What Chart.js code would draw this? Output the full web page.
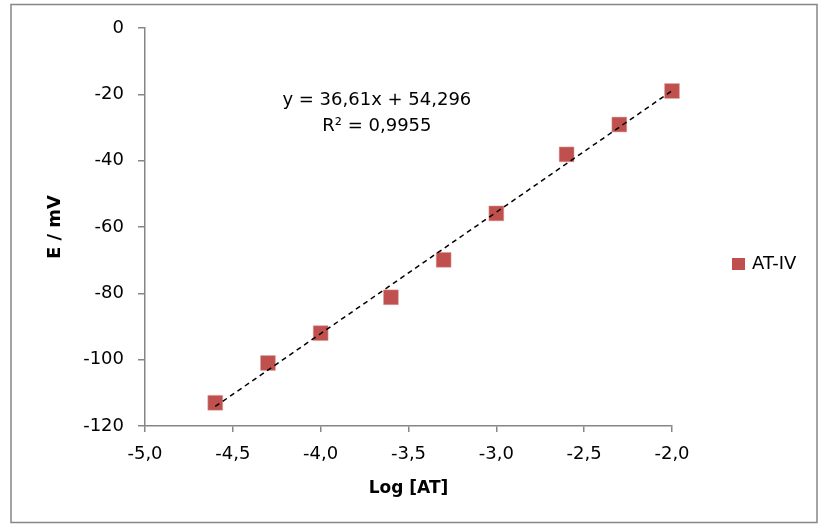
<!DOCTYPE html>
<html>
<head>
<meta charset="utf-8">
<script src="https://cdn.jsdelivr.net/npm/chart.js@4/dist/chart.umd.min.js"></script>
<style>
  html, body { margin: 0; padding: 0; background: #fff; }
  #wrap { width: 820px; height: 525px; }
</style>
</head>
<body>
<div id="wrap"><canvas id="chart" width="820" height="525"></canvas></div>
<script>
// values
const seriesName = "AT-IV";
const logConc = [-4.6, -4.3, -4.0, -3.6, -3.3, -3.0, -2.6, -2.3, -2.0];
const potential = [-113.0, -101.0, -92.0, -81.2, -69.9, -55.9, -38.1, -29.1, -19.0];

// trendline as printed on the chart
const slope = 36.61;
const intercept = 54.296;
const eqLines = ["y = 36,61x + 54,296", "R² = 0,9955"];

const fontFamily = "'DejaVu Sans', sans-serif";
const axisGray = "#868686";
const markerRed = "#C0504D";

const xMin = Math.min(...logConc);
const xMax = Math.max(...logConc);
const trendPoints = [
  { x: xMin, y: slope * xMin + intercept },
  { x: xMax, y: slope * xMax + intercept }
];

const decorations = {
  id: "decorations",
  beforeDraw(chart) {
    const ctx = chart.ctx;
    ctx.save();
    ctx.fillStyle = "#fff";
    ctx.fillRect(0, 0, chart.width, chart.height);
    ctx.strokeStyle = axisGray;
    ctx.lineWidth = 1.5;
    ctx.strokeRect(11, 4.5, 806, 518);
    ctx.restore();
  },
  afterDraw(chart) {
    const ctx = chart.ctx;
    const xs = chart.scales.x;
    const ys = chart.scales.y;
    ctx.save();
    // equation label
    ctx.font = "18px " + fontFamily;
    ctx.fillStyle = "#000";
    ctx.textAlign = "center";
    ctx.textBaseline = "middle";
    const ex = xs.getPixelForValue(-3.68);
    ctx.fillText(eqLines[0], ex, ys.getPixelForValue(-21.8));
    ctx.fillText(eqLines[1], ex, ys.getPixelForValue(-29.6));

    // legend
    ctx.fillStyle = markerRed;
    ctx.fillRect(732, 258, 13, 12);
    ctx.fillStyle = "#000";
    ctx.textAlign = "left";
    ctx.fillText(seriesName, 752, 264);
    ctx.restore();
  }
};

new Chart(document.getElementById("chart"), {
  type: "scatter",
  data: {
    datasets: [
      {
        label: "trend",
        data: trendPoints,
        showLine: true,
        borderColor: "#000",
        borderWidth: 1.5,
        borderDash: [5, 4],
        pointRadius: 0,
        fill: false
      },
      {
        label: seriesName,
        data: logConc.map((v, i) => ({ x: v, y: potential[i] })),
        clip: false,
        pointStyle: "rect",
        pointRadius: 10.5,
        pointBackgroundColor: markerRed,
        pointBorderColor: "#D9A09E",
        pointBorderWidth: 0.5
      }
    ]
  },
  plugins: [decorations],
  options: {
    responsive: false,
    animation: false,
    layout: { padding: { left: 0, top: 28, right: 148, bottom: 0 } },
    plugins: {
      legend: { display: false },
      tooltip: { enabled: false }
    },
    scales: {
      x: {
        type: "linear",
        min: -5,
        max: -2,
        afterFit(scale) { scale.height = 99; },
        border: { color: axisGray, width: 1.5 },
        grid: { drawOnChartArea: false, drawTicks: true, tickLength: 6, color: axisGray, lineWidth: 1.5 },
        ticks: {
          stepSize: 0.5,
          padding: 12,
          color: "#000",
          font: { family: fontFamily, size: 18 },
          callback: v => v.toFixed(1).replace(".", ",")
        },
        title: {
          display: true,
          text: "Log [AT]",
          color: "#000",
          font: { family: fontFamily, size: 17, weight: "bold" },
          padding: { top: 0, bottom: 26 }
        }
      },
      y: {
        type: "linear",
        min: -120,
        max: 0,
        afterFit(scale) { scale.width = 145; },
        border: { color: axisGray, width: 1.5 },
        grid: { drawOnChartArea: false, drawTicks: true, tickLength: 7, color: axisGray, lineWidth: 1.5 },
        ticks: {
          stepSize: 20,
          padding: 14,
          color: "#000",
          font: { family: fontFamily, size: 18 },
          callback: v => String(v)
        },
        title: {
          display: true,
          text: "E / mV",
          color: "#000",
          font: { family: fontFamily, size: 18, weight: "bold" },
          padding: { top: 45, bottom: 0 }
        }
      }
    }
  }
});
</script>
</body>
</html>
